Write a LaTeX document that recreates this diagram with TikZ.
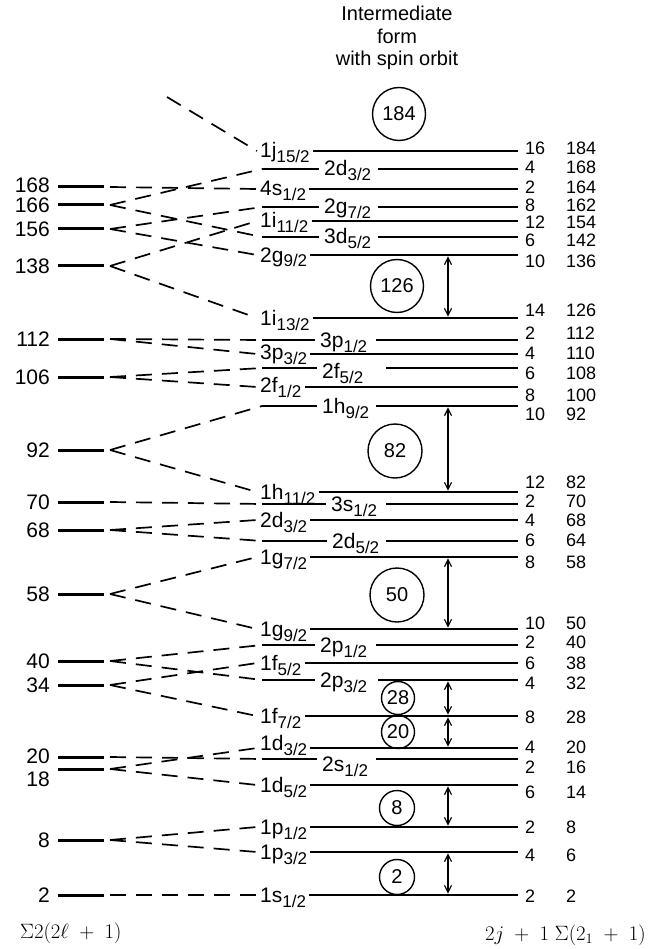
\documentclass[tikz,border=0pt]{standalone}
\usepackage{fontspec}
\setmainfont{Liberation Sans}
\usetikzlibrary{arrows.meta}
\newcommand\orbl[2]{#1\raisebox{-5pt}{\fontsize{17}{17}\selectfont #2}}
% right level, label first: name, y, main, sub, label dy
\newcommand\rlevA[5]{%
  \coordinate (R#1) at (518,#2);
  \node[orbtxt] (o#1) at (260,#2+7+#5) {\orbl{#3}{#4}};
  \draw[lvl] ([xshift=3pt]o#1.east |- R#1) -- (R#1);
  \coordinate (T#1) at ([xshift=-3pt]o#1.west |- R#1);
}
% right level, short segment then label: name, y, main, sub, label x, line start, label dy
\newcommand\rlevB[7]{%
  \coordinate (R#1) at (518,#2);
  \coordinate (T#1) at (262,#2);
  \node[orbtxt] (o#1) at (#5,#2+7+#7) {\orbl{#3}{#4}};
  \draw[lvl] (T#1) -- ([xshift=-5pt]o#1.west |- R#1);
  \coordinate (U#1) at (#6,#2);
  \draw[lvl] (U#1) -- (R#1);
}
% right numbers: name, y, 2j+1, sum
\newcommand\rnums[4]{%
  \node[num] (deg#1) at (525,#2+6.5) {#3};
  \node[num] (sum#1) at (566,#2+6.5) {#4};
}
% left level: value, line y, label y
\newcommand\leftlev[3]{%
  \coordinate (Ls#1) at (58,#2);
  \coordinate (Le#1) at (104,#2);
  \coordinate (V#1) at (110,#2);
  \draw[llvl] (Ls#1) -- (Le#1);
  \node[lnum] (t#1) at (50,#3+7.5) {#1};
}
\begin{document}
\begin{tikzpicture}[x=1pt,y=-1pt,
  lvl/.style={line width=2.7pt},
  llvl/.style={line width=3pt},
  dsh/.style={line width=1.7pt, dash pattern=on 16pt off 10pt},
  orbtxt/.style={inner sep=0pt, anchor=base west, font=\fontsize{21}{21}\selectfont},
  num/.style={inner sep=0pt, anchor=base west, font=\fontsize{18}{18}\selectfont},
  lnum/.style={inner sep=0pt, anchor=base east, font=\fontsize{21}{21}\selectfont},
  magic/.style={draw, circle, line width=1.4pt, inner sep=0pt, font=\fontsize{20}{20}\selectfont},
  gap/.style={line width=1.2pt, shorten <=1.3pt, shorten >=1.3pt,
    {Straight Barb[length=7pt,width=7pt]}-{Straight Barb[length=7pt,width=7pt]}}
]
\useasboundingbox (0,0) rectangle (648,949);

\node[align=center, inner sep=0pt, font=\fontsize{20}{22.5}\selectfont] (title) at (397,38)
  {Intermediate\\form\\with spin orbit};

% right levels
\rlevA{184}{151}{1j}{15/2}{0}
\rlevB{168}{169}{2d}{3/2}{324}{378}{0}
\rlevA{164}{189}{4s}{1/2}{0}
\rlevB{162}{207}{2g}{7/2}{324}{378}{0}
\rlevA{154}{221}{1i}{11/2}{0}
\rlevB{142}{237}{3d}{5/2}{324}{378}{0}
\rlevA{136}{255}{2g}{9/2}{0}
\rlevA{126}{318}{1i}{13/2}{0}
\rlevB{112}{340}{3p}{1/2}{320}{376}{0}
\rlevA{110}{354}{3p}{3/2}{-2}
\rlevB{108}{368}{2f}{5/2}{322}{386}{3}
\rlevA{100}{387}{2f}{1/2}{-2}
\rlevB{92}{406}{1h}{9/2}{322}{376}{0}
\rlevA{82}{492}{1h}{11/2}{0}
\rlevB{70}{504}{3s}{1/2}{331}{386}{0}
\rlevA{68}{520}{2d}{3/2}{0}
\rlevB{64}{541}{2d}{5/2}{332}{386}{0}
\rlevA{58}{557}{1g}{7/2}{0}
\rlevA{50}{629}{1g}{9/2}{0}
\rlevB{40}{645}{2p}{1/2}{320}{376}{0}
\rlevA{38}{663}{1f}{5/2}{0}
\rlevB{32}{680}{2p}{3/2}{320}{378}{0}
\rlevA{28}{716}{1f}{7/2}{0}
\rlevA{20}{748}{1d}{3/2}{-5}
\rlevB{16}{759}{2s}{1/2}{322}{376}{5}
\rlevA{14}{785}{1d}{5/2}{0}
\rlevA{8}{827}{1p}{1/2}{0}
\rlevA{6}{852}{1p}{3/2}{0}
\rlevA{2}{895}{1s}{1/2}{0}

% right numbers
\rnums{184}{148}{16}{184}
\rnums{168}{167}{4}{168}
\rnums{164}{187}{2}{164}
\rnums{162}{205}{8}{162}
\rnums{154}{222.5}{12}{154}
\rnums{142}{240}{6}{142}
\rnums{136}{261}{10}{136}
\rnums{126}{310}{14}{126}
\rnums{112}{333}{2}{112}
\rnums{110}{353}{4}{110}
\rnums{108}{373}{6}{108}
\rnums{100}{395}{8}{100}
\rnums{92}{414}{10}{92}
\rnums{82}{482}{12}{82}
\rnums{70}{501}{2}{70}
\rnums{68}{520}{4}{68}
\rnums{64}{540}{6}{64}
\rnums{58}{562}{8}{58}
\rnums{50}{623}{10}{50}
\rnums{40}{642}{2}{40}
\rnums{38}{663}{6}{38}
\rnums{32}{683}{4}{32}
\rnums{28}{717}{8}{28}
\rnums{20}{747}{4}{20}
\rnums{16}{767}{2}{16}
\rnums{14}{792}{6}{14}
\rnums{8}{827}{2}{8}
\rnums{6}{855}{4}{6}
\rnums{2}{896}{2}{2}

% left levels
\leftlev{168}{187}{185}
\leftlev{166}{205}{205}
\leftlev{156}{229}{229}
\leftlev{138}{266}{266}
\leftlev{112}{339}{339}
\leftlev{106}{377}{377}
\leftlev{92}{450}{450}
\leftlev{70}{502}{502}
\leftlev{68}{530}{530}
\leftlev{58}{594}{594}
\leftlev{40}{661}{661}
\leftlev{34}{685}{685}
\leftlev{20}{757}{756}
\leftlev{18}{769}{779}
\leftlev{8}{840}{840}
\leftlev{2}{895}{895}

% dashed connectors
\coordinate (topfrag) at (167,97);
\draw[dsh] (topfrag) -- (T184);
\draw[dsh] (V168) -- (T164);
\draw[dsh] (V166) -- (T168); \draw[dsh] (V166) -- (T142);
\draw[dsh] (V156) -- (T162); \draw[dsh] (V156) -- (T136);
\draw[dsh] (V138) -- (T154); \draw[dsh] (V138) -- (T126);
\draw[dsh] (V112) -- (T112); \draw[dsh] (V112) -- (T110);
\draw[dsh] (V106) -- (T108); \draw[dsh] (V106) -- (T100);
\draw[dsh] (V92) -- (T92);   \draw[dsh] (V92) -- (T82);
\draw[dsh] (V70) -- (T70);
\draw[dsh] (V68) -- (T68);   \draw[dsh] (V68) -- (T64);
\draw[dsh] (V58) -- (T58);   \draw[dsh] (V58) -- (T50);
\draw[dsh] (V40) -- (T40);   \draw[dsh] (V40) -- (T32);
\draw[dsh] (V34) -- (T38);   \draw[dsh] (V34) -- (T28);
\draw[dsh] (V20) -- (T16);
\draw[dsh] (V18) -- (T20);   \draw[dsh] (V18) -- (T14);
\draw[dsh] (V8) -- (T8);     \draw[dsh] (V8) -- (T6);
\draw[dsh] (V2) -- (T2);

% gap arrows
\coordinate (ax) at (448,0);
\draw[gap] (ax |- R136) -- (ax |- R126);
\draw[gap] (ax |- R92) -- (ax |- R82);
\draw[gap] (ax |- R58) -- (ax |- R50);
\draw[gap] (ax |- R32) -- (ax |- R28);
\draw[gap] (ax |- R28) -- (ax |- R20);
\draw[gap] (ax |- R14) -- (ax |- R8);
\draw[gap] (ax |- R6) -- (ax |- R2);

% magic number circles
\node[magic, minimum size=53pt] (c184) at (399,114) {184};
\node[magic, minimum size=53pt] (c126) at (397,286) {126};
\node[magic, minimum size=54pt] (c82) at (395,451) {82};
\node[magic, minimum size=54pt] (c50) at (397,595) {50};
\node[magic, minimum size=33pt] (c28) at (398,698) {28};
\node[magic, minimum size=33pt] (c20) at (398,732) {20};
\node[magic, minimum size=35pt] (c8) at (397,808) {8};
\node[magic, minimum size=35pt] (c2) at (397,877) {2};

% bottom captions
\node[inner sep=0pt, anchor=west, font=\fontsize{21}{21}\selectfont] (capL) at (20,933) {$\Sigma 2(2\ell\;+\;1)$};
\node[inner sep=0pt, anchor=east, font=\fontsize{21}{21}\selectfont] (capR) at (646,935) {$2j\;+\;1\;\Sigma(2_1\;+\;1)$};
\end{tikzpicture}
\end{document}
